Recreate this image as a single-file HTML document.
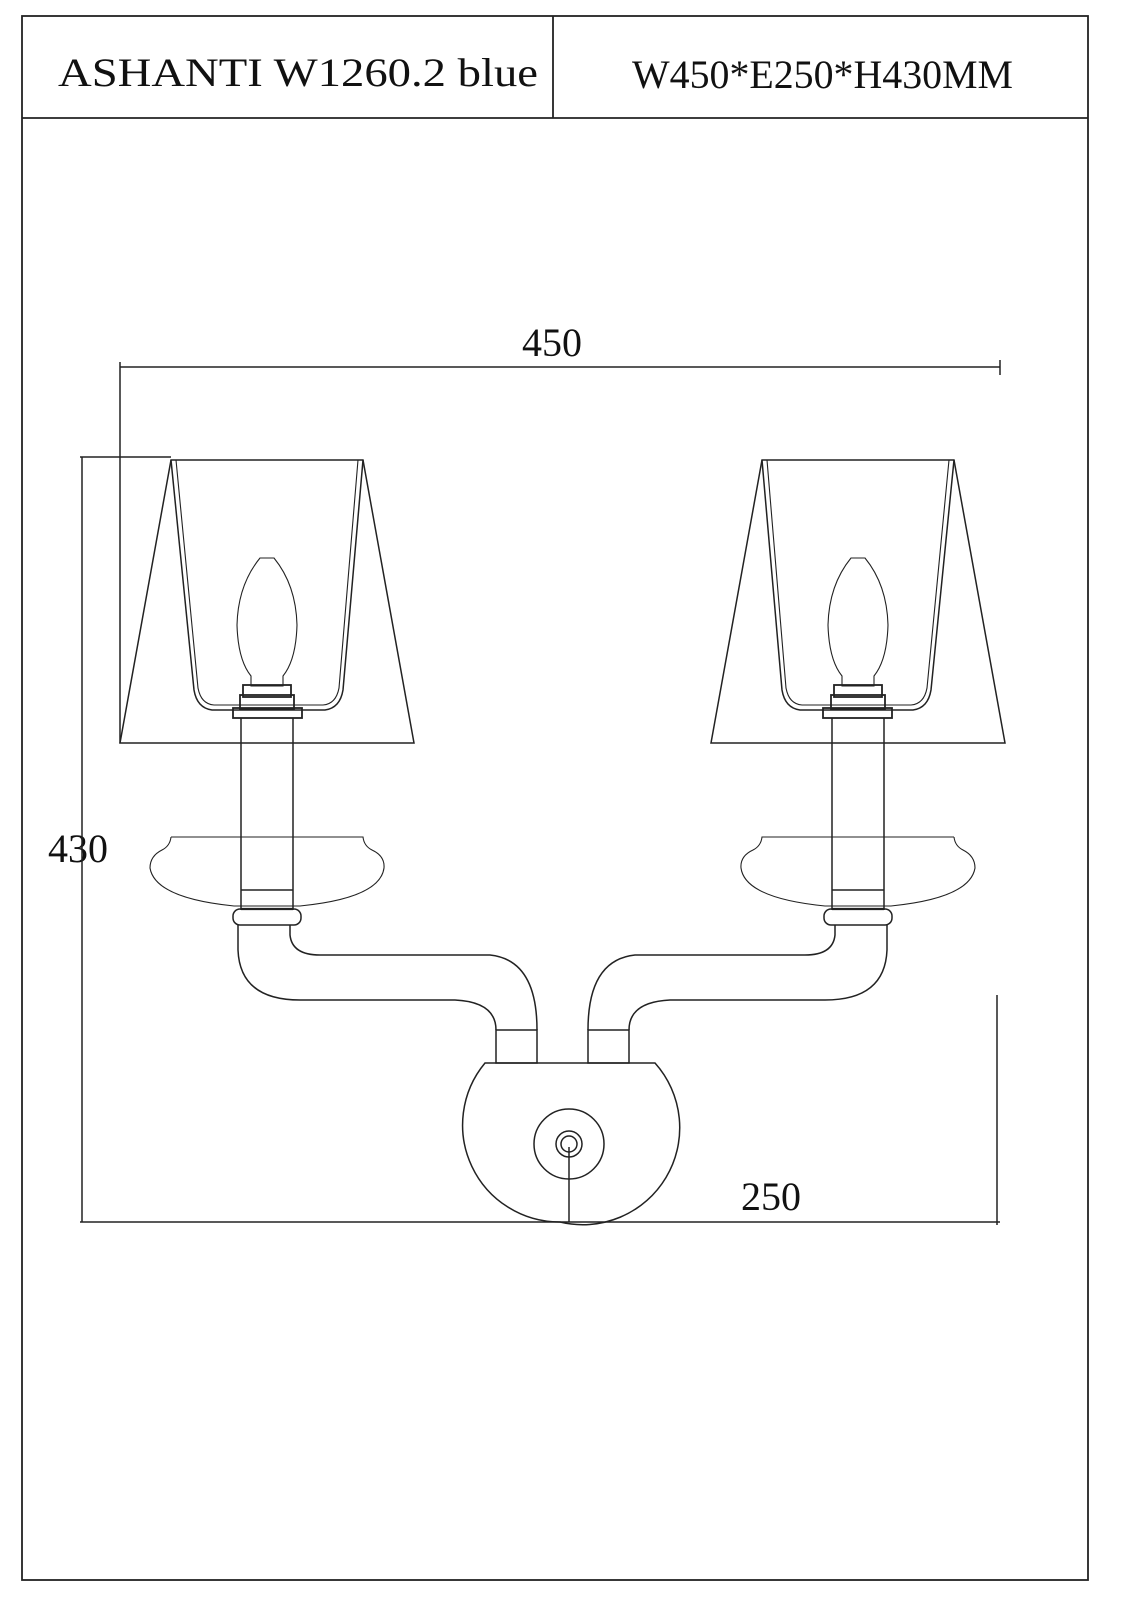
<!DOCTYPE html>
<html><head><meta charset="utf-8"><style>
html,body{margin:0;padding:0;background:#fff}
svg{display:block}
text{font-family:"Liberation Serif",serif;fill:#111}
</style></head><body>
<svg width="1131" height="1600" viewBox="0 0 1131 1600" xmlns="http://www.w3.org/2000/svg">
<g fill="none" stroke="#222" stroke-width="1.8">
<rect x="22" y="16" width="1066" height="1564"/>
<line x1="22" y1="118" x2="1088" y2="118"/>
<line x1="553" y1="16" x2="553" y2="118"/>
</g>
<text x="58" y="86" font-size="40" textLength="480" lengthAdjust="spacingAndGlyphs">ASHANTI W1260.2 blue</text>
<text x="632" y="88" font-size="40" textLength="381" lengthAdjust="spacingAndGlyphs">W450*E250*H430MM</text>
<text x="522" y="356" font-size="40">450</text>
<text x="48" y="862" font-size="40">430</text>
<text x="741" y="1210" font-size="40">250</text>
<g fill="none" stroke="#222" stroke-width="1.5">
<line x1="120" y1="367" x2="1000" y2="367"/>
<line x1="120" y1="362" x2="120" y2="743"/>
<line x1="1000" y1="360" x2="1000" y2="375"/>
<line x1="82" y1="457" x2="82" y2="1222"/>
<line x1="80" y1="457" x2="171" y2="457"/>
<line x1="80" y1="1222" x2="1000" y2="1222"/>
<line x1="997" y1="995" x2="997" y2="1225"/>
<path d="M485 1063 L655 1063 A97 97 0 0 1 560 1222 A97 97 0 0 1 485 1063 Z"/>
<circle cx="569" cy="1144" r="35"/>
<circle cx="569" cy="1144" r="13"/>
<circle cx="569" cy="1144" r="8"/>
<line x1="569" y1="1147" x2="569" y2="1222"/>
</g>
<g id="lamp" fill="none" stroke="#222" stroke-width="1.5">
<path d="M120 743 L414 743 L363 460 L171 460 Z"/>
<path d="M171 460 L194 690 Q197 708 212 710 L325 710 Q340 708 343 690 L363 460"/>
<path d="M176 460 L198 688 Q201 704 214 705 L323 705 Q336 704 339 688 L358 460" stroke-width="1.1"/>
<path d="M260 558 L274 558 Q296 585 297 625 Q296 660 283 676 L283 686 L251 686 L251 676 Q238 660 237 625 Q238 585 260 558 Z" stroke-width="1.1"/>
<rect x="243" y="685" width="48" height="12" stroke-width="1.8"/>
<rect x="240" y="695" width="54" height="14" stroke-width="1.8"/>
<rect x="233" y="708" width="69" height="10" stroke-width="1.8"/>
<line x1="241" y1="718" x2="241" y2="910"/>
<line x1="293" y1="718" x2="293" y2="910"/>
<line x1="241" y1="890" x2="293" y2="890"/>
<line x1="241" y1="909" x2="293" y2="909" stroke-width="2.2"/>
<path d="M171 837 L363 837 Q364 846 372 850 Q385 856 384 868 Q380 898 300 906 L234 906 Q155 898 150 868 Q150 856 162 850 Q170 846 171 837" stroke-width="1.1"/>
<rect x="233" y="909" width="68" height="16" rx="7"/>
<path d="M238 925 L238 950 Q240 1000 300 1000 L455 1000 Q496 1002 496 1030"/>
<path d="M290 925 L290 935 Q292 955 320 955 L490 955 Q537 960 537 1030"/>
<rect x="496" y="1030" width="41" height="33"/>
</g>
<use href="#lamp" transform="translate(1125 0) scale(-1 1)"/>
</svg>
</body></html>
